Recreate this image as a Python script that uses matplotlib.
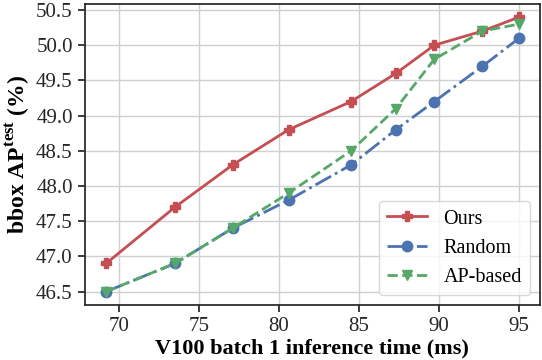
import matplotlib
matplotlib.use("Agg")
import matplotlib.pyplot as plt

x = [69.2, 73.5, 77.1, 80.6, 84.5, 87.3, 89.7, 92.7, 95.0]
ours = [46.9, 47.7, 48.3, 48.8, 49.2, 49.6, 50.0, 50.2, 50.4]
random_ = [46.5, 46.9, 47.4, 47.8, 48.3, 48.8, 49.2, 49.7, 50.1]
ap_based = [46.5, 46.9, 47.4, 47.9, 48.5, 49.1, 49.8, 50.2, 50.3]
xticks = [70, 75, 80, 85, 90, 95]
yticks = [46.5, 47.0, 47.5, 48.0, 48.5, 49.0, 49.5, 50.0, 50.5]

plt.rcParams['font.family'] = ['Liberation Serif', 'DejaVu Serif']
plt.rcParams['mathtext.fontset'] = 'custom'
plt.rcParams['mathtext.rm'] = 'Liberation Serif'
plt.rcParams['mathtext.bf'] = 'Liberation Serif:bold'

fig = plt.figure(figsize=(5.42, 3.6), dpi=100)
ax = fig.add_axes([84.5/542, 1 - 305/360, (540 - 84.5)/542, (305 - 4)/360])

ax.plot(x, ours, color='#c44e52', marker='P', markersize=7.5, linewidth=2, linestyle='-', label='Ours', zorder=3)
ax.plot(x, random_, color='#4c72b0', marker='o', markersize=7.5, linewidth=2, linestyle='-.', label='Random', zorder=3)
ax.plot(x, ap_based, color='#55a868', marker='v', markersize=7.5, linewidth=2, linestyle='--', label='AP-based', zorder=3)

ax.set_xlim(67.85, 96.3)
ax.set_ylim(46.31, 50.585)
ax.set_xticks(xticks)
ax.set_yticks(yticks)
ax.set_yticklabels([f"{v:.1f}" for v in yticks])
ax.grid(True, color='#d0d0d0', linewidth=1)
ax.set_axisbelow(True)
for s in ax.spines.values():
    s.set_color('#262626')
    s.set_linewidth(1.25)
ax.tick_params(direction='out', length=5, width=1.25, colors='#262626', labelsize=15, pad=3.5)
ax.set_xlabel('V100 batch 1 inference time (ms)', fontsize=16, fontweight='bold', labelpad=2)
ax.set_ylabel(r'bbox AP$^{\mathbf{test}}$ (%)', fontsize=17, fontweight='bold', labelpad=3)
leg = ax.legend(loc='lower right', fontsize=14.5, frameon=True, handlelength=2.0,
                borderpad=0.4, labelspacing=0.5, handletextpad=0.8)
leg.get_frame().set_edgecolor('#d0d0d0')

fig.savefig('out.png', dpi=100)
